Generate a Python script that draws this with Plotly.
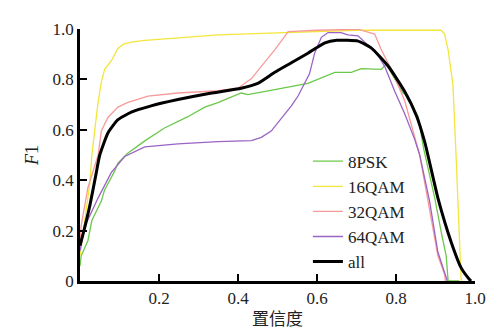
import plotly.graph_objects as go

# ---- data ----
psk8_x = [0, 0.003, 0.02, 0.03, 0.054, 0.062, 0.088, 0.096, 0.12, 0.164, 0.214, 0.273, 0.316, 0.349,
          0.408, 0.425, 0.493, 0.577, 0.645, 0.687, 0.712, 0.763, 0.775, 0.797, 0.818, 0.83, 0.856,
          0.87, 0.898, 0.915, 0.927, 0.932, 0.96]
psk8_y = [0.06, 0.1, 0.16, 0.24, 0.317, 0.36, 0.437, 0.468, 0.506, 0.556, 0.607, 0.652, 0.69, 0.708,
          0.746, 0.74, 0.759, 0.784, 0.828, 0.828, 0.843, 0.84, 0.86, 0.803, 0.746, 0.735, 0.652,
          0.525, 0.33, 0.19, 0.10, 0.0, 0.0]

qam16_x = [0, 0.025, 0.03, 0.045, 0.054, 0.0625, 0.079, 0.096, 0.11, 0.13, 0.165, 0.25, 0.35, 0.5,
           0.7, 0.914, 0.923, 0.932, 0.944, 0.952, 0.965]
qam16_y = [0.1, 0.39, 0.5, 0.7, 0.79, 0.84, 0.873, 0.923, 0.94, 0.948, 0.955, 0.965, 0.977, 0.985,
           0.995, 0.995, 0.98, 0.917, 0.78, 0.5, 0.0]

qam32_x = [0, 0.003, 0.02, 0.046, 0.054, 0.071, 0.096, 0.12, 0.172, 0.248, 0.349, 0.4, 0.434, 0.467,
           0.493, 0.527, 0.6, 0.704, 0.737, 0.746, 0.763, 0.788, 0.822, 0.847, 0.86, 0.881, 0.906,
           0.923, 0.925]
qam32_y = [0.15, 0.22, 0.37, 0.5, 0.595, 0.65, 0.69, 0.708, 0.734, 0.746, 0.755, 0.765, 0.803, 0.866,
           0.917, 0.99, 0.995, 0.999, 0.986, 0.98, 0.917, 0.84, 0.715, 0.576, 0.5, 0.317, 0.10,
           0.027, 0.0]

qam64_x = [0, 0.012, 0.046, 0.079, 0.113, 0.138, 0.164, 0.248, 0.349, 0.434, 0.459, 0.484, 0.51,
           0.535, 0.552, 0.569, 0.581, 0.594, 0.611, 0.628, 0.661, 0.678, 0.704, 0.729, 0.746, 0.771,
           0.797, 0.822, 0.847, 0.86, 0.885, 0.906, 0.927, 0.93]
qam64_y = [0.12, 0.216, 0.33, 0.43, 0.494, 0.513, 0.532, 0.544, 0.553, 0.557, 0.57, 0.595, 0.645,
           0.695, 0.734, 0.784, 0.822, 0.904, 0.967, 0.986, 0.986, 0.977, 0.973, 0.936, 0.917, 0.853,
           0.752, 0.664, 0.563, 0.5, 0.317, 0.115, 0.014, 0.0]

all_x = [0, 0.01, 0.025, 0.04, 0.05, 0.071, 0.096, 0.13, 0.18, 0.248, 0.33, 0.408, 0.45, 0.493,
         0.535, 0.577, 0.62, 0.65, 0.704, 0.737, 0.78, 0.822, 0.852, 0.873, 0.906, 0.94, 0.965,
         0.985, 0.99]
all_y = [0.14, 0.2, 0.3, 0.42, 0.5, 0.588, 0.64, 0.67, 0.695, 0.72, 0.745, 0.765, 0.784, 0.828,
         0.866, 0.904, 0.945, 0.955, 0.952, 0.925, 0.853, 0.752, 0.655, 0.55, 0.33, 0.153, 0.052,
         0.008, 0.0]

x_tickvals = [0.2, 0.4, 0.6, 0.8, 1.0]
x_ticktext = ["0.2", "0.4", "0.6", "0.8", "1.0"]
y_tickvals = [0, 0.2, 0.4, 0.6, 0.8, 1.0]
y_ticktext = ["0", "0.2", "0.4", "0.6", "0.8", "1.0"]

series = [
    ("8PSK", psk8_x, psk8_y, "#6cc84a", 1.3, "linear"),
    ("16QAM", qam16_x, qam16_y, "#f2e63a", 1.3, "linear"),
    ("32QAM", qam32_x, qam32_y, "#f79a9a", 1.3, "linear"),
    ("64QAM", qam64_x, qam64_y, "#9a63c4", 1.3, "linear"),
    ("all", all_x, all_y, "#000000", 3, "spline"),
]

fig = go.Figure()
for name, xs, ys, col, w, shp in series:
    line = dict(color=col, width=w, shape=shp)
    if shp == "spline":
        line["smoothing"] = 0.5
    fig.add_trace(go.Scatter(x=xs, y=ys, mode="lines", name=name, line=line))

serif = "Liberation Serif, serif"
fig.update_layout(
    width=495, height=330,
    margin=dict(l=72, r=28, t=13, b=53),
    paper_bgcolor="white", plot_bgcolor="white",
    font=dict(family=serif, size=17, color="#222222"),
    showlegend=True,
    legend=dict(x=0.577, y=0.545, xanchor="left", yanchor="top",
                bgcolor="rgba(0,0,0,0)", font=dict(family=serif, size=17),
                tracegroupgap=0),
    xaxis=dict(range=[0, 1], showgrid=False, zeroline=False,
               showline=True, linecolor="black", linewidth=2.5,
               ticks="inside", ticklen=7, tickwidth=2, tickcolor="black",
               tickvals=x_tickvals, ticktext=x_ticktext,
               tickfont=dict(family=serif, size=17),
               title=dict(text="置信度", font=dict(family="Noto Sans CJK SC", size=17), standoff=6)),
    yaxis=dict(range=[0, 1], showgrid=False, zeroline=False,
               showline=True, linecolor="black", linewidth=2.5,
               ticks="inside", ticklen=7, tickwidth=2, tickcolor="black",
               tickvals=y_tickvals, ticktext=y_ticktext,
               tickfont=dict(family=serif, size=17),
               title=dict(text="<i>F</i>1", font=dict(family=serif, size=18), standoff=10)),
)

fig.write_html("out.html")
